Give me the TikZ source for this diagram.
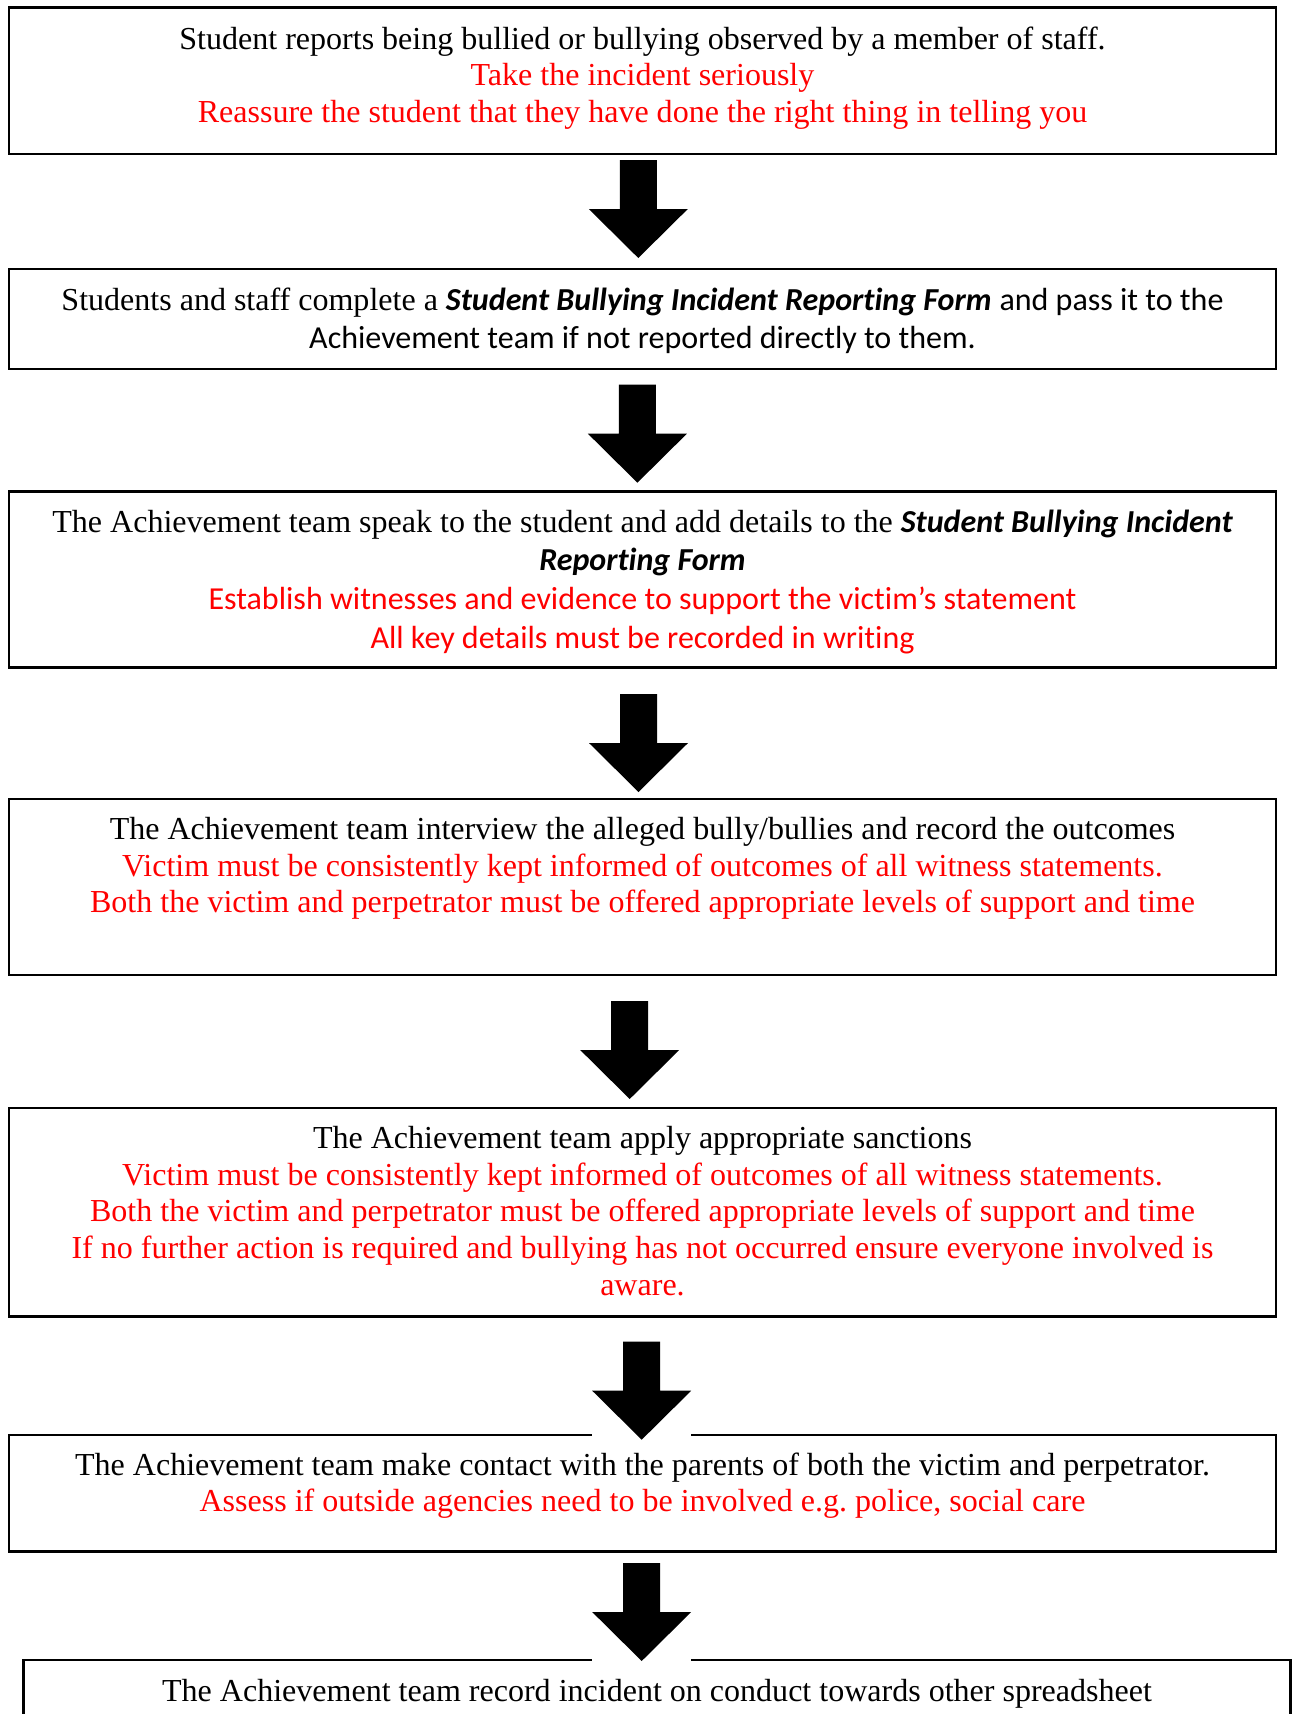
\documentclass[tikz,border=0pt]{standalone}
\usepackage{fontspec}
\setmainfont{Liberation Serif}
\newfontfamily\calibri[Ligatures=NoCommon]{Carlito}
\usetikzlibrary{fit}
\frenchspacing

\tikzset{
  stepbox/.style={draw, line width=0.8pt, inner sep=0pt},
  % text nodes sit on the baseline of their last line
  steptext/.style={anchor=base, align=center, inner sep=0pt,
    font=\fontsize{12.17}{13.9}\selectfont},
  sanstext/.style={steptext, font=\fontsize{12.17}{14.7}\selectfont},
}
\newcommand{\formname}[1]{{\calibri\bfseries\itshape #1}}
\newcommand{\redline}[1]{\textcolor{red}{#1}}

\begin{document}
\begin{tikzpicture}[x=0.38pt, y=-0.38pt]%
    \clip (0,0) rectangle (1294,1714);

    % the seven steps
    \node[stepbox, fit={(9,7.5) (1276,154)}] (b1) {};
    \node[stepbox, fit={(9,269) (1276,369)}] (b2) {};
    \node[stepbox, fit={(9,491.5) (1276,667.5)}] (b3) {};
    \node[stepbox, fit={(9,799) (1276,975)}] (b4) {};
    \node[stepbox, fit={(9,1108.3) (1276,1316.5)}] (b5) {};
    \node[stepbox, fit={(9,1435.3) (1276,1551.5)}] (b6) {};
    \node[stepbox, fit={(23.5,1660) (1290.5,1780)}] (b7) {};

    \node[steptext] (t1) at (642.5,122.3)
      {Student reports being bullied or bullying observed by a member of staff.\\
       \redline{Take the incident seriously}\\
       \redline{Reassure the student that they have done the right thing in telling you}};
    \node[sanstext] (t2) at (642.5,348.8)
      {Students and staff complete a \formname{Student Bullying Incident Reporting Form}
       {\calibri and pass it to the}\\
       {\calibri Achievement team if not reported directly to them.}};
    \node[sanstext] (t3) at (642.5,648.3)
      {The Achievement team speak to the student and add details to the
       \formname{Student Bullying Incident}\\
       \formname{Reporting Form}\\
       \redline{\calibri Establish witnesses and evidence to support the victim’s statement}\\
       \redline{\calibri All key details must be recorded in writing}};
    \node[steptext] (t4) at (642.5,912.7)
      {The Achievement team interview the alleged bully/bullies and record the outcomes\\
       \redline{Victim must be consistently kept informed of outcomes of all witness statements.}\\
       \redline{Both the victim and perpetrator must be offered appropriate levels of support and time}};
    \node[steptext] (t5) at (642.5,1295)
      {The Achievement team apply appropriate sanctions\\
       \redline{Victim must be consistently kept informed of outcomes of all witness statements.}\\
       \redline{Both the victim and perpetrator must be offered appropriate levels of support and time}\\
       \redline{If no further action is required and bullying has not occurred ensure everyone involved is}\\
       \redline{aware.}};
    \node[steptext] (t6) at (642.5,1511.7)
      {The Achievement team make contact with the parents of both the victim and perpetrator.\\
       \redline{Assess if outside agencies need to be involved e.g. police, social care}};
    \node[steptext] (t7) at (657,1701.5)
      {The Achievement team record incident on conduct towards other spreadsheet};

    % block arrows between the steps, each on a white patch
    \foreach \n/\x/\y in {1/638.3/160, 2/637.4/384.7, 3/638.5/694,
                          4/629.7/1001, 5/641.7/1341.7, 6/641.7/1563} {
      \coordinate (s\n) at (\x,\y);
      \coordinate (e\n) at (\x,\y+98);
      \fill[white] (s\n) ++(-49.5,0) rectangle ++(99,101);
      \fill (s\n) ++(-18.5,0) -- ++(37,0) -- ++(0,49) -- ++(31,0)
        -- (e\n) -- ++(-49.5,-49) -- ++(31,0) -- cycle;
    }
  \end{tikzpicture}
\end{document}
